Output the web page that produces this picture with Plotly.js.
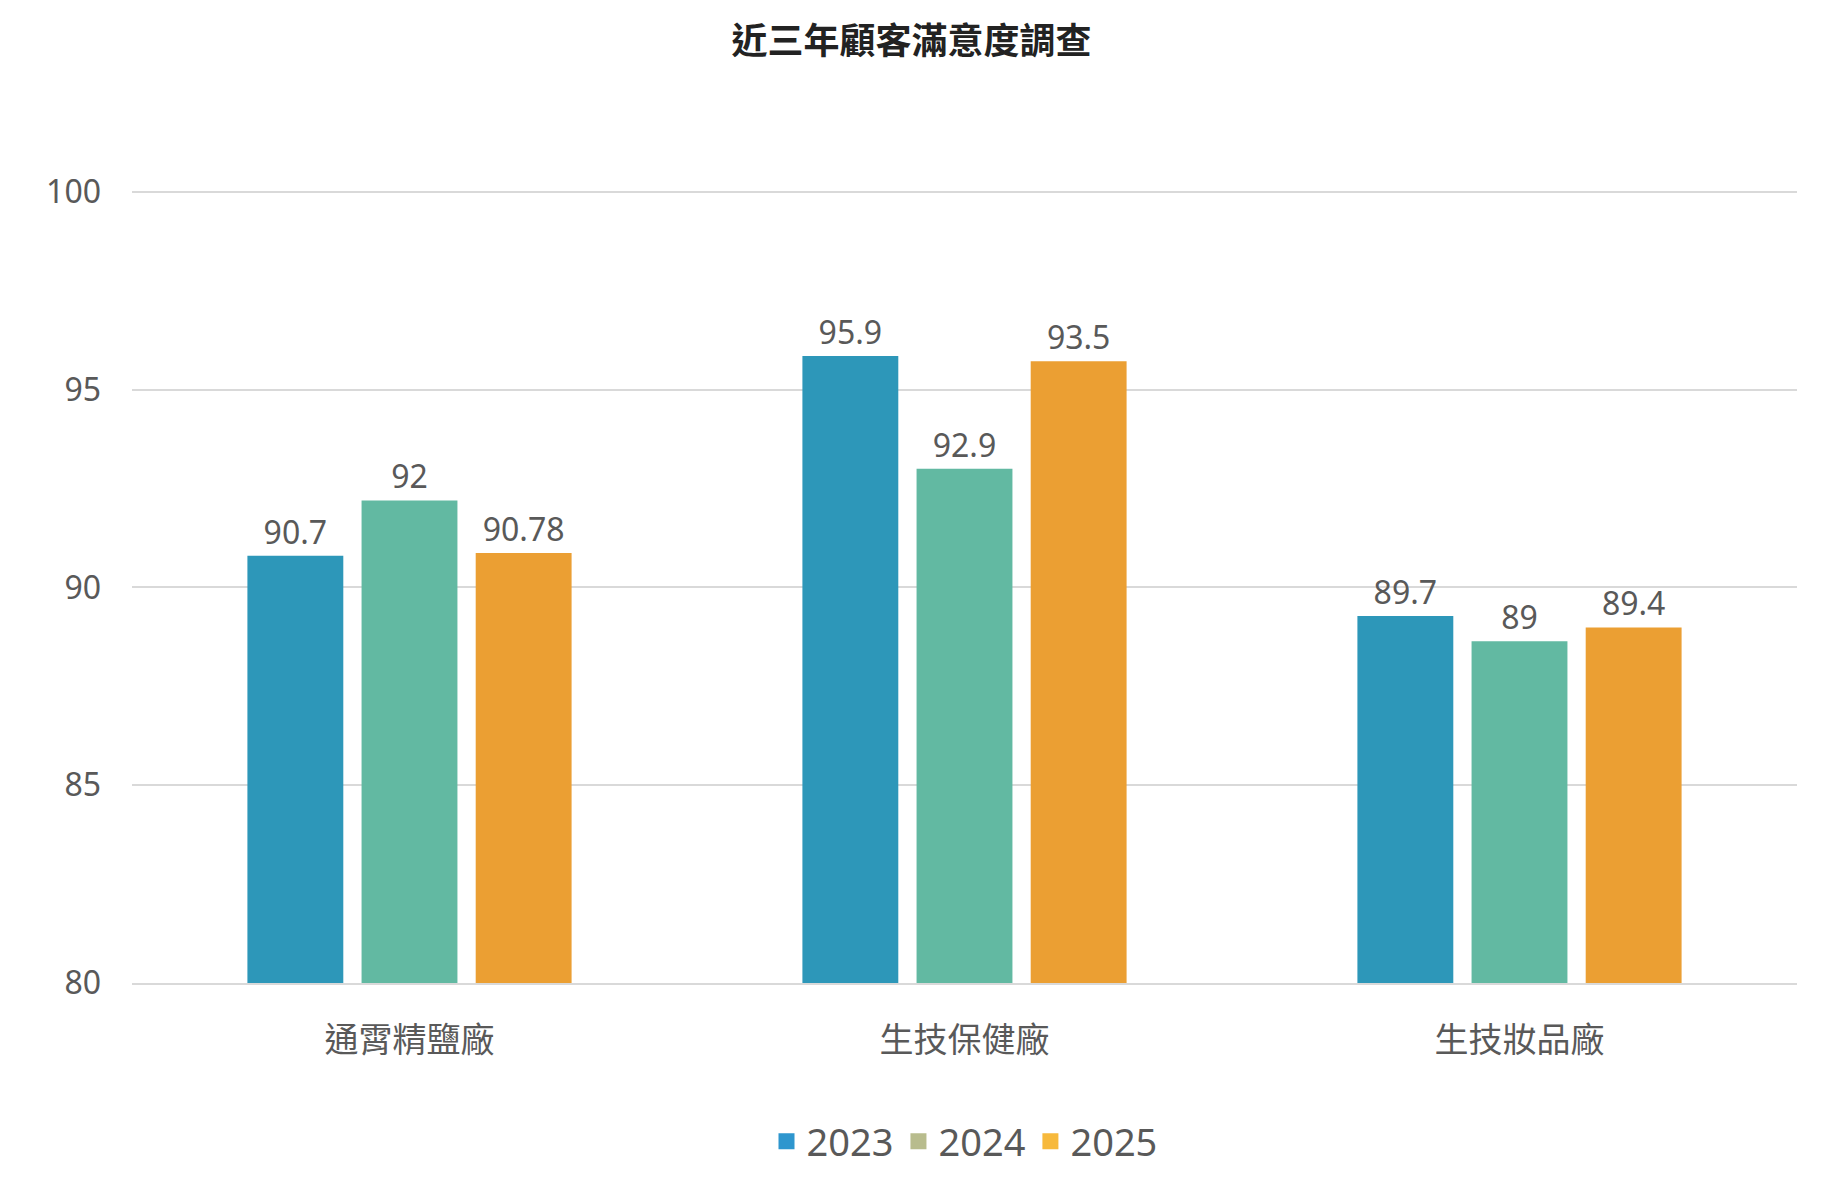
<!DOCTYPE html>
<html><head><meta charset="utf-8">
<script src="https://cdn.plot.ly/plotly-3.0.1.min.js"></script>
<style>body{margin:0;background:#fff}</style></head>
<body><div id="chart" style="width:1823px;height:1185px"></div>
<script>
var categories = ["通霄精鹽廠", "生技保健廠", "生技妝品廠"];
var years = ["2023", "2024", "2025"];
// bar heights as drawn
var v2023 = [90.8, 95.85, 89.28];
var v2024 = [92.2, 93.0, 88.64];
var v2025 = [90.87, 95.72, 88.99];
// data labels as printed
var t2023 = ["90.7", "95.9", "89.7"];
var t2024 = ["92", "92.9", "89"];
var t2025 = ["90.78", "93.5", "89.4"];
var barColors = ["#2D97B9", "#62B9A2", "#EB9F33"];
var legendColors = ["#2E96CE", "#B8BC8D", "#F7B93C"];

var vals = [v2023, v2024, v2025];
var txts = [t2023, t2024, t2025];
var data = [];
for (var i = 0; i < 3; i++) {
  data.push({
    type: "bar", x: categories, y: vals[i], name: years[i], showlegend: false,
    marker: {color: barColors[i]}, text: txts[i], textposition: "outside",
    constraintext: "none", cliponaxis: false,
    textfont: {size: 32, color: "#595959"}, hoverinfo: "y"
  });
}
// legend-only entries (legend swatches use their own colours)
for (var j = 0; j < 3; j++) {
  data.push({type: "scatter", mode: "markers", x: [categories[0]], y: [null], name: years[j],
    marker: {color: legendColors[j], symbol: "square", size: 22}, showlegend: true, hoverinfo: "skip"});
}
var layout = {
  width: 1823, height: 1185,
  font: {family: "Noto Sans, Noto Sans CJK TC, sans-serif", color: "#595959"},
  title: {text: "<b>近三年顧客滿意度調查</b>", x: 0.5, y: 0.965, yanchor: "middle",
    font: {family: "Noto Sans CJK TC", size: 36, color: "#222"}},
  margin: {l: 132, r: 26, t: 190, b: 186},
  barmode: "group", bargap: 0.383, bargroupgap: 0.16,
  yaxis: {range: [80, 100.05], tickvals: [80, 85, 90, 95, 100], showgrid: true, gridcolor: "#d9d9d9", gridwidth: 2,
    zeroline: false, tickfont: {size: 32, color: "#595959"}, ticks: "", ticklabelstandoff: 30},
  xaxis: {showline: true, linecolor: "#d9d9d9", linewidth: 2,
    tickfont: {family: "Noto Sans CJK TC", size: 34, color: "#595959"}, ticklabelstandoff: 26},
  legend: {orientation: "h", x: 0.5, xanchor: "center", y: -0.2, yanchor: "middle",
    font: {size: 38, color: "#595959"}, itemwidth: 30, traceorder: "normal"},
  plot_bgcolor: "#fff", paper_bgcolor: "#fff"
};
Plotly.newPlot("chart", data, layout, {displayModeBar: false});
</script></body></html>
